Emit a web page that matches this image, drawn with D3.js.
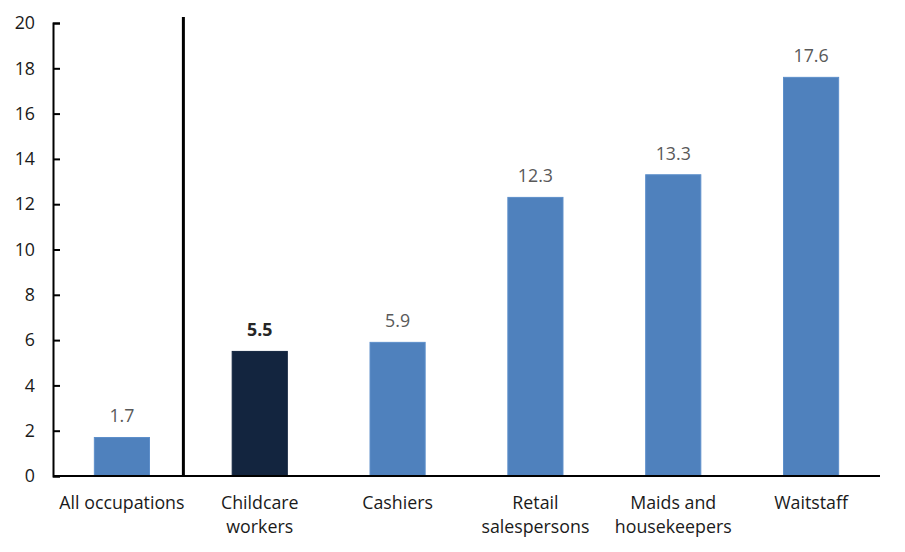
<!DOCTYPE html>
<html>
<head>
<meta charset="utf-8">
<script src="https://cdn.jsdelivr.net/npm/d3@7"></script>
<style>
  body { margin: 0; background: #fff; }
  svg text { font-family: 'Open Sans', sans-serif; }
</style>
</head>
<body>
<div id="chart"></div>
<script>
// chart data
const categories = ['All occupations', 'Childcare workers', 'Cashiers', 'Retail salespersons', 'Maids and housekeepers', 'Waitstaff'];
const labelLines = [['All occupations'], ['Childcare', 'workers'], ['Cashiers'], ['Retail', 'salespersons'], ['Maids and', 'housekeepers'], ['Waitstaff']];
const values = [1.7, 5.5, 5.9, 12.3, 13.3, 17.6];
const highlighted = ['Childcare workers'];
const yTicks = [0, 2, 4, 6, 8, 10, 12, 14, 16, 18, 20];

const width = 905;
const height = 552;
const margin = { top: 23, right: 25, bottom: 76, left: 53 };
const fontSize = 17.8;

const colors = {
  bar: '#4f81bd',
  barEdge: '#5d8fca',
  highlight: '#13253f',
  axis: '#000000',
  label: '#595959',
  text: '#1a1a1a',
};

const svg = d3.select('#chart')
  .append('svg')
  .attr('width', width)
  .attr('height', height);

const x = d3.scaleBand()
  .domain(categories)
  .range([margin.left, width - margin.right])
  .paddingInner(0.6)
  .paddingOuter(0.3);

const y = d3.scaleLinear()
  .domain([0, 20])
  .range([height - margin.bottom, margin.top]);

const isHi = d => highlighted.includes(d);

// bars
svg.append('g')
  .attr('class', 'bars')
  .selectAll('rect')
  .data(categories)
  .enter()
  .append('rect')
  .attr('x', d => x(d))
  .attr('width', x.bandwidth())
  .attr('y', (d, i) => y(values[i]))
  .attr('height', (d, i) => y(0) - y(values[i]))
  .attr('fill', d => isHi(d) ? colors.highlight : colors.bar)
  .attr('stroke', d => isHi(d) ? colors.highlight : colors.barEdge)
  .attr('stroke-width', 1);

// value labels
svg.append('g')
  .attr('class', 'values')
  .selectAll('text')
  .data(categories)
  .enter()
  .append('text')
  .attr('x', d => x(d) + x.bandwidth() / 2)
  .attr('y', (d, i) => y(values[i]) - 15)
  .attr('text-anchor', 'middle')
  .attr('font-size', fontSize)
  .attr('font-weight', d => isHi(d) ? 'bold' : 'normal')
  .attr('fill', d => isHi(d) ? '#262626' : colors.label)
  .text((d, i) => values[i].toFixed(1));

// y axis
const yAxis = svg.append('g')
  .attr('transform', `translate(${margin.left},0)`)
  .call(d3.axisLeft(y).tickValues(yTicks).tickSizeInner(-7).tickSizeOuter(-7).tickPadding(18));

yAxis.select('.domain').attr('stroke', colors.axis).attr('stroke-width', 2);
yAxis.selectAll('.tick line').attr('stroke', colors.axis).attr('stroke-width', 2);
yAxis.selectAll('.tick text')
  .attr('font-size', fontSize)
  .attr('fill', colors.text)
  .attr('font-family', "'Open Sans', sans-serif");

// x axis line
svg.append('line')
  .attr('x1', margin.left)
  .attr('x2', width - margin.right)
  .attr('y1', y(0))
  .attr('y2', y(0))
  .attr('stroke', colors.axis)
  .attr('stroke-width', 2);

// separator between "All occupations" and the rest
const gapStart = x(categories[0]) + x.bandwidth();
const sepX = gapStart + (x(categories[1]) - gapStart) * 0.41;
svg.append('line')
  .attr('x1', sepX)
  .attr('x2', sepX)
  .attr('y1', y(20) - 6)
  .attr('y2', y(0))
  .attr('stroke', colors.axis)
  .attr('stroke-width', 3);

// category labels
const catLabels = svg.append('g')
  .attr('class', 'categories')
  .selectAll('text')
  .data(categories)
  .enter()
  .append('text')
  .attr('x', d => x(d) + x.bandwidth() / 2)
  .attr('y', y(0) + 33)
  .attr('text-anchor', 'middle')
  .attr('font-size', fontSize)
  .attr('fill', colors.text);

catLabels.each(function (d, i) {
  const t = d3.select(this);
  labelLines[i].forEach((line, j) => {
    t.append('tspan')
      .attr('x', x(d) + x.bandwidth() / 2)
      .attr('dy', j === 0 ? 0 : 24)
      .text(line);
  });
});
</script>
</body>
</html>
